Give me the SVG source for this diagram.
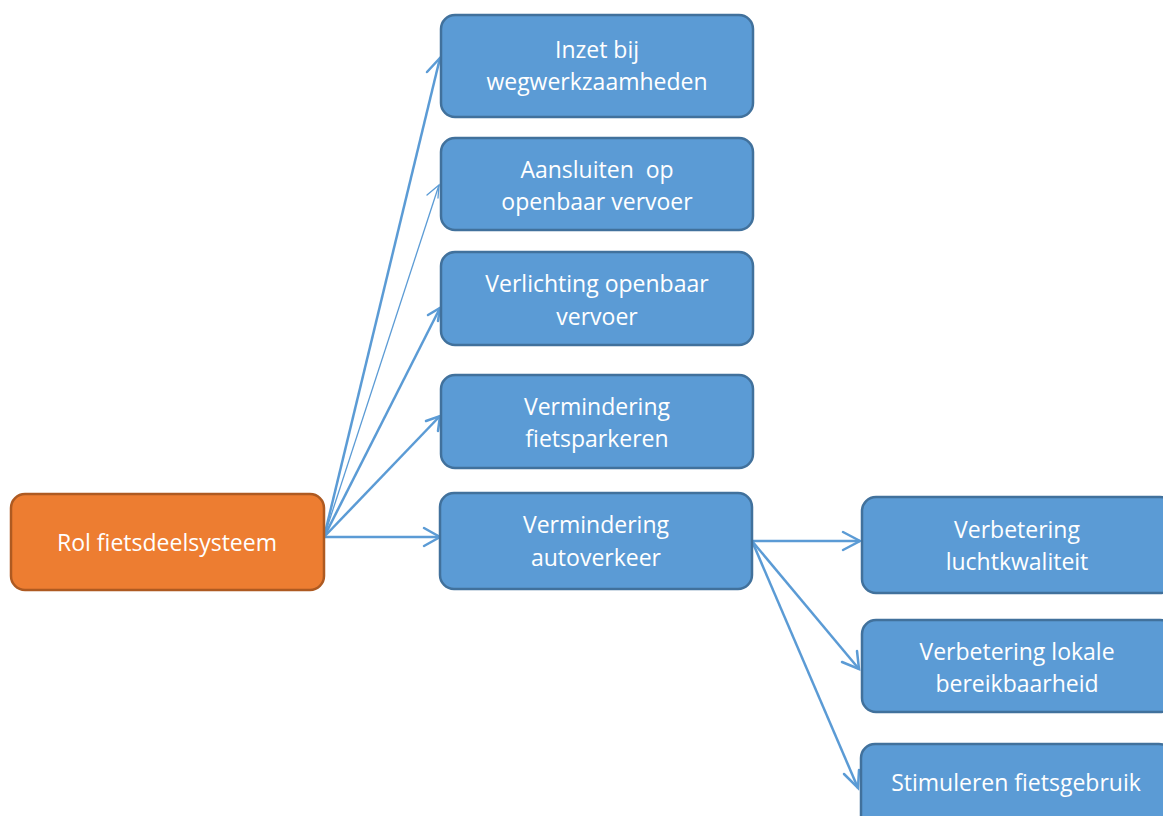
<svg xmlns="http://www.w3.org/2000/svg" width="1163" height="816" viewBox="0 0 1163 816">
<style>
.b{fill:#5B9BD5;stroke:#41719C;stroke-width:2.5}
.o{fill:#ED7D31;stroke:#AE5A21;stroke-width:2.5}
.t{fill:#fff;font-family:"Open Sans","Liberation Sans",sans-serif;font-size:23px;text-anchor:middle}
.c{fill:none;stroke:#5B9BD5;stroke-width:2.5}
.h{fill:none;stroke:#5B9BD5;stroke-width:2.5;stroke-linecap:round}
</style>
<rect width="1163" height="816" fill="#fff"/>
<g id="connectors">
<path class="c" d="M324 537 L440 58"/><path class="h" d="M427 72 L440 58 L443 77"/>
<path class="c" style="stroke-width:1.3" d="M324 537 L439 185"/><path class="h" style="stroke-width:1.3" d="M427 195 L439 185 L438 198"/>
<path class="c" d="M324 537 L440 308"/><path class="h" d="M428 315 L440 308 L438 321"/>
<path class="c" d="M324 537 L440 416"/><path class="h" d="M426 421 L440 416 L438 431"/>
<path class="c" d="M324 537 L440 537"/><path class="h" d="M424 528 L440 537 L424 546"/>
<path class="c" d="M752 541 L860 541"/><path class="h" d="M843 532 L860 541 L843 550"/>
<path class="c" d="M752 541 L859 669"/><path class="h" d="M842 662 L859 669 L857 651"/>
<path class="c" d="M752 541 L858 788"/><path class="h" d="M844 774 L858 788 L859 770"/>
</g>
<g id="n0"><rect class="o" x="11" y="494" width="313" height="96" rx="14"/><text class="t" x="167" y="551">Rol fietsdeelsysteem</text></g>
<g id="n1"><rect class="b" x="441" y="15" width="312" height="102" rx="14"/><text class="t" x="597" y="58">Inzet bij</text><text class="t" x="597" y="90">wegwerkzaamheden</text></g>
<g id="n2"><rect class="b" x="441" y="138" width="312" height="92" rx="14"/><text class="t" x="597" y="178" xml:space="preserve">Aansluiten  op</text><text class="t" x="597" y="210">openbaar vervoer</text></g>
<g id="n3"><rect class="b" x="441" y="252" width="312" height="93" rx="14"/><text class="t" x="597" y="292">Verlichting openbaar</text><text class="t" x="597" y="325">vervoer</text></g>
<g id="n4"><rect class="b" x="441" y="375" width="312" height="93" rx="14"/><text class="t" x="597" y="415">Vermindering</text><text class="t" x="597" y="447">fietsparkeren</text></g>
<g id="n5"><rect class="b" x="440" y="493" width="312" height="96" rx="14"/><text class="t" x="596" y="533">Vermindering</text><text class="t" x="596" y="566">autoverkeer</text></g>
<g id="n6"><rect class="b" x="862" y="497" width="312" height="96" rx="14"/><text class="t" x="1017" y="538">Verbetering</text><text class="t" x="1017" y="570">luchtkwaliteit</text></g>
<g id="n7"><rect class="b" x="862" y="620" width="312" height="92" rx="14"/><text class="t" x="1017" y="660">Verbetering lokale</text><text class="t" x="1017" y="692">bereikbaarheid</text></g>
<g id="n8"><rect class="b" x="861" y="744" width="312" height="90" rx="14"/><text class="t" x="1016" y="791">Stimuleren fietsgebruik</text></g>
</svg>
